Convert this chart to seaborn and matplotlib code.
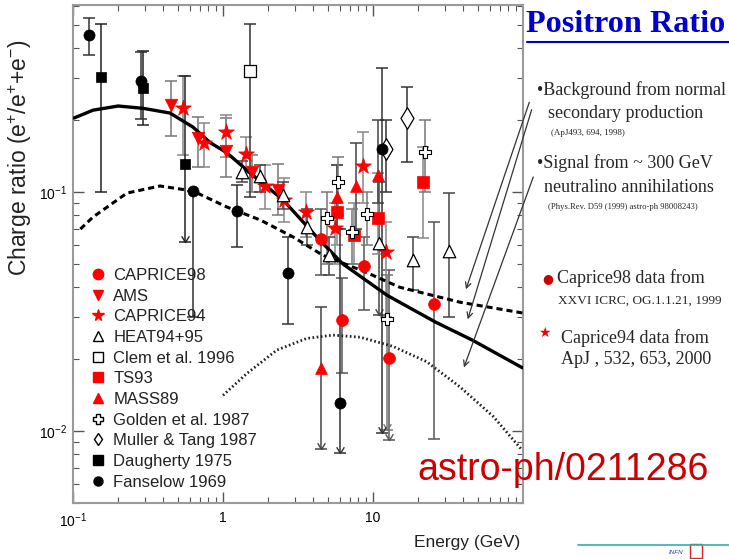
import numpy as np
import pandas as pd
import matplotlib
matplotlib.use("Agg")
import matplotlib.pyplot as plt
from matplotlib.lines import Line2D
from matplotlib.patches import Rectangle
from matplotlib.path import Path
import seaborn as sns

# ---------------- data ----------------
caprice98_x = [4.5, 6.21, 8.71, 12.8, 25.5]
caprice98_y = [0.0636, 0.0291, 0.049, 0.0202, 0.034]
caprice98_lo = [0.045, 0.0175, 0.032, 0.0092, 0.0093]
caprice98_hi = [0.085, 0.0436, 0.065, 0.047, 0.075]
caprice98_lim = [False, False, False, True, False]

ams_x = [0.45, 0.68, 1.05, 1.56, 2.33]
ams_y = [0.231, 0.168, 0.148, 0.121, 0.102]
ams_lo = [0.171, 0.127, 0.116, 0.100, 0.080]
ams_hi = [0.291, 0.206, 0.204, 0.143, 0.131]
ams_lim = [False] * 5

caprice94_x = [0.54, 0.747, 1.05, 1.42, 1.9, 2.55, 3.57, 5.58, 8.58, 12.2]
caprice94_y = [0.224, 0.160, 0.178, 0.144, 0.106, 0.093, 0.0825, 0.0706, 0.128, 0.056]
caprice94_lo = [0.143, 0.127, 0.140, 0.120, 0.085, 0.075, 0.065, 0.050, 0.090, 0.030]
caprice94_hi = [0.306, 0.195, 0.210, 0.170, 0.130, 0.115, 0.100, 0.090, 0.178, 0.075]
caprice94_lim = [False] * 10

heat_x = [1.34, 1.77, 2.5, 3.63, 5.09, 10.96, 18.5, 32.1]
heat_y = [0.121, 0.117, 0.097, 0.0714, 0.0545, 0.061, 0.052, 0.0567]
heat_lo = [0.110, 0.100, 0.085, 0.060, 0.045, 0.0306, 0.039, 0.030]
heat_hi = [0.135, 0.130, 0.110, 0.085, 0.065, 0.110, 0.065, 0.0995]
heat_lim = [False, False, False, False, False, True, False, False]

clem_x = [1.51]
clem_y = [0.321]
clem_lo = [0.095]
clem_hi = [0.505]
clem_lim = [False]

ts93_x = [5.75, 7.47, 10.8, 21.5]
ts93_y = [0.0825, 0.066, 0.0778, 0.110]
ts93_lo = [0.060, 0.050, 0.055, 0.064]
ts93_hi = [0.130, 0.090, 0.120, 0.155]
ts93_lim = [False] * 4

mass89_x = [4.5, 5.75, 7.7, 10.8]
mass89_y = [0.0184, 0.095, 0.106, 0.118]
mass89_lo = [0.0084, 0.070, 0.070, 0.090]
mass89_hi = [0.033, 0.130, 0.160, 0.200]
mass89_lim = [True, False, False, False]

golden_x = [4.94, 5.83, 7.24, 9.12, 12.4, 22.2]
golden_y = [0.078, 0.110, 0.068, 0.081, 0.0295, 0.147]
golden_lo = [0.050, 0.080, 0.050, 0.060, 0.0101, 0.100]
golden_hi = [0.100, 0.140, 0.085, 0.100, 0.045, 0.200]
golden_lim = [False, False, False, False, True, False]

muller_x = [12.2, 16.9]
muller_y = [0.151, 0.204]
muller_lo = [0.100, 0.134]
muller_hi = [0.200, 0.275]
muller_lim = [False, False]

daugherty_x = [0.154, 0.293, 0.558]
daugherty_y = [0.303, 0.272, 0.131]
daugherty_lo = [0.100, 0.190, 0.062]
daugherty_hi = [0.505, 0.390, 0.306]
daugherty_lim = [False, False, True]

fanselow_x = [0.128, 0.284, 0.63, 1.24, 2.71, 6.03, 11.5]
fanselow_y = [0.454, 0.291, 0.101, 0.083, 0.046, 0.0131, 0.151]
fanselow_lo = [0.374, 0.202, 0.030, 0.059, 0.028, 0.0081, 0.0098]
fanselow_hi = [0.535, 0.385, 0.101, 0.107, 0.065, 0.070, 0.330]
fanselow_lim = [False, False, False, False, False, True, True]

background_x = [0.1016, 0.136, 0.2, 0.293, 0.443, 0.63, 0.82, 1.06, 1.52, 2.5, 4.4, 6.3, 12.4, 26, 46, 99]
background_y = [0.204, 0.22, 0.229, 0.224, 0.214, 0.187, 0.161, 0.146, 0.12, 0.093, 0.063, 0.050, 0.037, 0.0286, 0.024, 0.0184]

total_x = [0.112, 0.136, 0.229, 0.38, 0.63, 1.06, 1.77, 2.94, 4.6, 9.1, 15, 38, 99]
total_y = [0.070, 0.0786, 0.099, 0.106, 0.101, 0.0866, 0.0764, 0.0648, 0.0545, 0.046, 0.040, 0.0346, 0.0312]

signal_x = [1.0, 1.44, 2.28, 3.61, 5.4, 8.19, 13.6, 22.8, 38.0, 63.4, 99]
signal_y = [0.0141, 0.0174, 0.0218, 0.0244, 0.0252, 0.0247, 0.0226, 0.0195, 0.0153, 0.0115, 0.0083]

x_ticks = [0.1, 1, 10]
x_ticklabels = ["$10^{-1}$", "1", "10"]
y_ticks = [0.01, 0.1]
y_ticklabels = ["$10^{-2}$", "$10^{-1}$"]

# ---------------- styles ----------------
RED = "#ff0000"
series = [
    ("CAPRICE98", caprice98_x, caprice98_y, caprice98_lo, caprice98_hi, caprice98_lim,
     dict(marker="o", ms=8.5, mfc=RED, mec=RED, mew=0.5), "#555555"),
    ("AMS", ams_x, ams_y, ams_lo, ams_hi, ams_lim,
     dict(marker="v", ms=9, mfc=RED, mec=RED, mew=0.5), "#777777"),
    ("CAPRICE94", caprice94_x, caprice94_y, caprice94_lo, caprice94_hi, caprice94_lim,
     dict(marker="*", ms=12, mfc=RED, mec=RED, mew=0.5), "#888888"),
    ("HEAT94+95", heat_x, heat_y, heat_lo, heat_hi, heat_lim,
     dict(marker="^", ms=9, mfc="white", mec="black", mew=0.9), "#444444"),
    ("Clem et al. 1996", clem_x, clem_y, clem_lo, clem_hi, clem_lim,
     dict(marker="s", ms=8.5, mfc="white", mec="black", mew=0.9), "#333333"),
    ("TS93", ts93_x, ts93_y, ts93_lo, ts93_hi, ts93_lim,
     dict(marker="s", ms=8, mfc=RED, mec=RED, mew=0.5), "#888888"),
    ("MASS89", mass89_x, mass89_y, mass89_lo, mass89_hi, mass89_lim,
     dict(marker="^", ms=8.5, mfc=RED, mec=RED, mew=0.5), "#444444"),
    ("Golden et al. 1987", golden_x, golden_y, golden_lo, golden_hi, golden_lim,
     dict(marker="P", ms=8, mfc="white", mec="black", mew=0.8), "#777777"),
    ("Muller & Tang 1987", muller_x, muller_y, muller_lo, muller_hi, muller_lim,
     dict(marker="d", ms=11, mfc="white", mec="black", mew=0.9), "#333333"),
    ("Daugherty 1975", daugherty_x, daugherty_y, daugherty_lo, daugherty_hi, daugherty_lim,
     dict(marker="s", ms=6.5, mfc="black", mec="black", mew=0.5), "#222222"),
    ("Fanselow 1969", fanselow_x, fanselow_y, fanselow_lo, fanselow_hi, fanselow_lim,
     dict(marker="o", ms=8, mfc="black", mec="black", mew=0.5), "#333333"),
]

legend_style = {
    "CAPRICE98": dict(marker="o", ms=7.5, mfc=RED, mec=RED),
    "AMS": dict(marker="v", ms=7.5, mfc=RED, mec=RED),
    "CAPRICE94": dict(marker="*", ms=8.5, mfc=RED, mec=RED),
    "HEAT94+95": dict(marker="^", ms=6.5, mfc="white", mec="black"),
    "Clem et al. 1996": dict(marker="s", ms=6.5, mfc="white", mec="black"),
    "TS93": dict(marker="s", ms=7.5, mfc=RED, mec=RED),
    "MASS89": dict(marker="^", ms=7.5, mfc=RED, mec=RED),
    "Golden et al. 1987": dict(marker="P", ms=6.5, mfc="white", mec="black"),
    "Muller & Tang 1987": dict(marker="d", ms=6.5, mfc="white", mec="black"),
    "Daugherty 1975": dict(marker="s", ms=6.5, mfc="black", mec="black"),
    "Fanselow 1969": dict(marker="o", ms=6.5, mfc="black", mec="black"),
}

sns.set_style("ticks")
plt.rcParams["font.family"] = ["Liberation Sans", "DejaVu Sans"]
plt.rcParams["mathtext.fontset"] = "custom"
plt.rcParams["mathtext.rm"] = "Liberation Sans"
plt.rcParams["mathtext.it"] = "Liberation Sans"

W, H = 729, 559
fig = plt.figure(figsize=(W / 100, H / 100), dpi=100)
fig.patch.set_facecolor("white")
ax = fig.add_axes([73 / W, 56 / H, 450 / W, 498 / H])
ax.set_xscale("log")
ax.set_yscale("log")

# curves
curves = pd.concat([
    pd.DataFrame({"E": background_x, "R": background_y, "c": "background"}),
    pd.DataFrame({"E": total_x, "R": total_y, "c": "total"}),
    pd.DataFrame({"E": signal_x, "R": signal_y, "c": "signal"}),
])
sns.lineplot(data=curves[curves.c == "background"], x="E", y="R", ax=ax,
             color="black", lw=2.4, zorder=3, estimator=None, sort=False)
sns.lineplot(data=curves[curves.c == "total"], x="E", y="R", ax=ax,
             color="black", lw=2.2, zorder=3, estimator=None, sort=False,
             linestyle=(0, (2.0, 1.3)))
sns.lineplot(data=curves[curves.c == "signal"], x="E", y="R", ax=ax,
             color="#222222", lw=2.0, zorder=3, estimator=None, sort=False,
             linestyle=(0, (0.6, 0.9)))

arrow_path = Path([(-0.55, 0.9), (0, 0), (0.55, 0.9)],
                  [Path.MOVETO, Path.LINETO, Path.LINETO])

for name, xs, ys, lo, hi, lim, st, ec in series:
    xs = np.array(xs); ys = np.array(ys); lo = np.array(lo); hi = np.array(hi)
    lim = np.array(lim)
    yerr = np.vstack([ys - lo, hi - ys])
    ax.errorbar(xs, ys, yerr=yerr, fmt="none", ecolor=ec, elinewidth=1.1,
                capsize=4, capthick=1.1, zorder=2)
    if lim.any():
        ax.plot(xs[lim], lo[lim], ls="none", marker=arrow_path, ms=9,
                mfc="none", mec=ec, mew=1.0, zorder=2)
    df = pd.DataFrame({"E": xs, "R": ys})
    sns.scatterplot(data=df, x="E", y="R", ax=ax, marker=st["marker"],
                    s=st["ms"] ** 2, color=st["mfc"], edgecolor=st["mec"],
                    linewidth=st["mew"], zorder=4, legend=False)

ax.set_xlim(0.1, 100)
ax.set_ylim(0.005, 0.606)
ax.set_xlabel("")
ax.set_ylabel("")
ax.set_xticks(x_ticks)
ax.set_xticklabels(x_ticklabels)
ax.set_yticks(y_ticks)
ax.set_yticklabels(y_ticklabels)
ax.tick_params(which="both", direction="in", top=True, right=True,
               colors="#555555", labelcolor="black")
ax.tick_params(which="major", length=8, width=1.0, labelsize=10, pad=6)
ax.tick_params(axis="y", which="major", pad=4)
ax.tick_params(which="minor", length=4, width=0.8)
for sp in ax.spines.values():
    sp.set_color("#9a9a9a")
    sp.set_linewidth(1.5)

handles = [Line2D([], [], ls="none", **legend_style[s[0]]) for s in series]
leg = ax.legend(handles, [s[0] for s in series], loc="upper left",
                bbox_to_anchor=(0.036, 0.472), frameon=False, fontsize=12,
                handlelength=1.0, handletextpad=0.45, labelspacing=0.34,
                borderaxespad=0.0, borderpad=0.0)
for t in leg.get_texts():
    t.set_color("#222222")

# arrows from the annotations
ax.annotate("", xy=(41.1, 0.0382), xytext=(1.016, 0.81), textcoords="axes fraction",
            arrowprops=dict(arrowstyle="->", lw=0.9, color="#333333"), annotation_clip=False)
ax.annotate("", xy=(42.3, 0.0286), xytext=(1.021, 0.795), textcoords="axes fraction",
            arrowprops=dict(arrowstyle="->", lw=0.9, color="#333333"), annotation_clip=False)
ax.annotate("", xy=(39.8, 0.018), xytext=(1.025, 0.66), textcoords="axes fraction",
            arrowprops=dict(arrowstyle="->", lw=0.9, color="#333333"), annotation_clip=False)

def px(x, y):
    return x / W, 1 - y / H

# axis labels
fig.text(*px(20, 158), "Charge ratio (e$^{+}$/e$^{+}$+e$^{-}$)", rotation=90,
         ha="center", va="center", fontsize=16.5, color="#222222")
fig.text(*px(467, 543), "Energy (GeV)", ha="center", va="center",
         fontsize=12.5, color="#222222")

# right-hand annotations
serif = ["Liberation Serif", "DejaVu Serif"]
fig.text(*px(526, 24), "Positron Ratio", ha="left", va="center", fontsize=23.2,
         fontweight="bold", color="#0000cc", family=serif)
fig.add_artist(Line2D([527 / W, 1.0], [1 - 42 / H, 1 - 42 / H], color="#0000cc", lw=1.5))
fig.text(*px(537, 90), "\u2022Background from normal", fontsize=13, va="center", family=serif)
fig.text(*px(548, 113), "secondary production", fontsize=13, va="center", family=serif)
fig.text(*px(551, 133), "(ApJ493, 694, 1998)", fontsize=6.5, va="center", family=serif)
fig.text(*px(537, 163), "\u2022Signal from ~ 300 GeV", fontsize=13, va="center", family=serif)
fig.text(*px(544, 187), "neutralino annihilations", fontsize=13, va="center", family=serif)
fig.text(*px(548, 207), "(Phys.Rev. D59 (1999) astro-ph 98008243)", fontsize=6.2, va="center", family=serif)
fig.text(*px(542, 279), "\u25cf", fontsize=9, va="center", color="#cc0000", family=["DejaVu Sans"])
fig.text(*px(557, 278), "Caprice98 data from", fontsize=13, va="center", family=serif)
fig.text(*px(558, 301), "XXVI ICRC, OG.1.1.21, 1999", fontsize=9.5, va="center", family=serif)
fig.text(*px(538, 333), "\u2605", fontsize=10, va="center", color="#ee0000", family=["DejaVu Sans"])
fig.text(*px(561, 338), "Caprice94 data from", fontsize=13, va="center", family=serif)
fig.text(*px(561, 359), "ApJ , 532, 653, 2000", fontsize=13, va="center", family=serif)

fig.text(*px(417, 470), "astro-ph/0211286", fontsize=27, ha="left", va="center",
         color="#cc0000")

# footer line and logo
fig.add_artist(Line2D([578 / W, 1.0], [1 - 545 / H, 1 - 545 / H], color="#30b0b0", lw=1.2))
fig.text(*px(676, 552), "INFN", fontsize=4.5, style="italic", color="#224488",
         ha="center", va="center")
fig.add_artist(Rectangle(px(690, 558), 12 / W, 14 / H, fill=False, ec="#dd2222", lw=1.0))

fig.savefig("out.png", dpi=100)
